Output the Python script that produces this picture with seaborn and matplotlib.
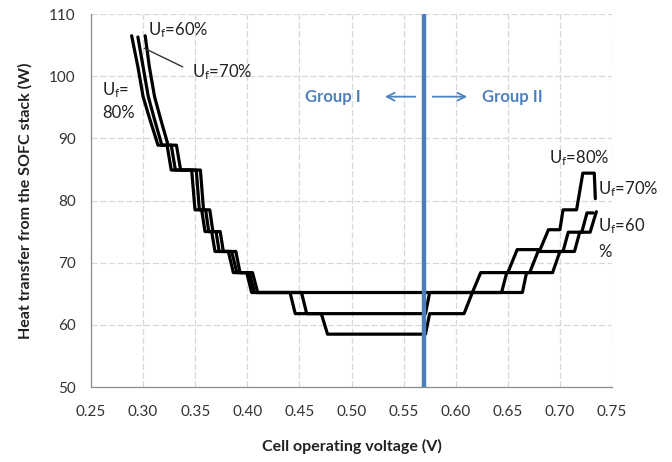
import matplotlib
matplotlib.use("Agg")
import matplotlib.pyplot as plt
import seaborn as sns
import pandas as pd

# ---- data ----
uf80_v = [0.289, 0.295, 0.300, 0.3066, 0.3143, 0.323, 0.327, 0.3466, 0.3498, 0.3562, 0.3594,
          0.3658, 0.369, 0.3818, 0.3866, 0.3994, 0.4042, 0.441, 0.446, 0.471, 0.477, 0.571,
          0.575, 0.608, 0.616, 0.624, 0.650, 0.659, 0.681, 0.689, 0.700, 0.703, 0.716, 0.722,
          0.733, 0.734]
uf80_q = [106.5, 101.5, 96.7, 93.0, 88.9, 88.9, 84.9, 84.9, 78.5, 78.5, 75.0,
          75.0, 71.8, 71.8, 68.4, 68.4, 65.2, 65.2, 61.8, 61.8, 58.5, 58.5,
          61.8, 61.8, 65.2, 68.4, 68.4, 72.1, 72.1, 75.3, 75.3, 78.5, 78.5, 84.4,
          84.4, 80.3]

uf70_v = [0.295, 0.300, 0.305, 0.311, 0.318, 0.327, 0.331, 0.351, 0.354, 0.360, 0.363,
          0.370, 0.373, 0.385, 0.390, 0.402, 0.407, 0.452, 0.457, 0.571, 0.575, 0.644,
          0.649, 0.671, 0.679, 0.703, 0.708, 0.721, 0.726, 0.732]
uf70_q = [106.3, 101.5, 96.7, 93.0, 88.9, 88.9, 84.9, 84.9, 78.5, 78.5, 75.0,
          75.0, 71.8, 71.8, 68.4, 68.4, 65.2, 65.2, 61.8, 61.8, 65.2, 65.2,
          68.4, 68.4, 71.8, 71.8, 74.9, 74.9, 78.0, 78.0]

uf60_v = [0.302, 0.306, 0.311, 0.317, 0.324, 0.332, 0.336, 0.355, 0.358, 0.364, 0.367,
          0.374, 0.377, 0.389, 0.393, 0.405, 0.410, 0.664, 0.668, 0.693, 0.700, 0.714,
          0.719, 0.729, 0.735]
uf60_q = [106.5, 101.5, 96.7, 93.0, 88.9, 88.9, 84.9, 84.9, 78.5, 78.5, 75.0,
          75.0, 71.8, 71.8, 68.4, 68.4, 65.2, 65.2, 68.4, 68.4, 71.8, 71.8,
          74.9, 74.9, 78.2]

divide_v = 0.57
x_ticks = [0.25, 0.30, 0.35, 0.40, 0.45, 0.50, 0.55, 0.60, 0.65, 0.70, 0.75]
y_ticks = [50, 60, 70, 80, 90, 100, 110]

# ---- style ----
sns.set_theme(style="white")
plt.rcParams["font.family"] = ["Lato", "DejaVu Sans"]
plt.rcParams["mathtext.fontset"] = "custom"
plt.rcParams["mathtext.rm"] = "Lato"
plt.rcParams["mathtext.it"] = "Lato"

fig = plt.figure(figsize=(6.72, 4.62), dpi=100)
ax = fig.add_axes([91 / 672, 1 - 387 / 462, (612 - 91) / 672, (387 - 14) / 462])

for v, q in [(uf80_v, uf80_q), (uf70_v, uf70_q), (uf60_v, uf60_q)]:
    df = pd.DataFrame({"v": v, "q": q})
    sns.lineplot(data=df, x="v", y="q", sort=False, estimator=None, color="black",
                 lw=2.3, ax=ax, zorder=3, solid_joinstyle="round", solid_capstyle="round")

ax.axvline(divide_v, color="#4A7EBB", lw=3.2, zorder=4)

ax.set_xlim(0.25, 0.75)
ax.set_ylim(50, 110)
ax.set_xticks(x_ticks)
ax.set_xticklabels([f"{t:.2f}" for t in x_ticks])
ax.set_yticks(y_ticks)
ax.grid(True, color="#D8D8D8", lw=0.9, ls=(0, (5, 2)))
ax.set_axisbelow(True)
for s in ["top", "right"]:
    ax.spines[s].set_visible(False)
for s in ["left", "bottom"]:
    ax.spines[s].set_color("#8C8C8C")
    ax.spines[s].set_linewidth(0.9)
ax.tick_params(axis="both", which="major", length=5, width=0.9, color="#8C8C8C",
               labelsize=11, labelcolor="#333333", direction="out", pad=6)
ax.tick_params(axis="x", pad=8)
ax.tick_params(axis="y", pad=6)

ax.set_xlabel("Cell operating voltage (V)", fontsize=11.5, fontweight="bold",
              color="#222222", labelpad=14)
ax.set_ylabel("Heat transfer from the SOFC stack (W)", fontsize=11.5, fontweight="bold",
              color="#222222", labelpad=12)

# annotations
fs = 12
tc = "#222222"
ax.text(0.3047, 107.4, r"$\mathrm{U_f}$=60%", fontsize=fs, color=tc, va="center", ha="left")
ax.text(0.347, 100.7, r"$\mathrm{U_f}$=70%", fontsize=fs, color=tc, va="center", ha="left")
ax.plot([0.301, 0.338], [104.5, 101.5], color="#333333", lw=1.0, zorder=3)
ax.text(0.2606, 97.8, r"$\mathrm{U_f}$=", fontsize=fs, color=tc, va="center", ha="left")
ax.text(0.2606, 94.1, "80%", fontsize=fs, color=tc, va="center", ha="left")

ax.text(0.6895, 86.8, r"$\mathrm{U_f}$=80%", fontsize=fs, color=tc, va="center", ha="left",
        clip_on=False)
ax.text(0.7366, 81.9, r"$\mathrm{U_f}$=70%", fontsize=fs, color=tc, va="center", ha="left",
        clip_on=False)
ax.text(0.7366, 75.8, r"$\mathrm{U_f}$=60", fontsize=fs, color=tc, va="center", ha="left",
        clip_on=False)
ax.text(0.7366, 71.7, "%", fontsize=fs, color=tc, va="center", ha="left", clip_on=False)

gc = "#4F81BD"
ax.text(0.4554, 96.7, "Group I", fontsize=12, fontweight="bold", color=gc, va="center",
        ha="left")
ax.text(0.6252, 96.7, "Group II", fontsize=12, fontweight="bold", color=gc, va="center",
        ha="left")
ax.annotate("", xy=(0.5293, 96.7), xytext=(0.5638, 96.7),
            arrowprops=dict(arrowstyle="->", color=gc, lw=1.3, mutation_scale=14))
ax.annotate("", xy=(0.6137, 96.7), xytext=(0.5753, 96.7),
            arrowprops=dict(arrowstyle="->", color=gc, lw=1.3, mutation_scale=14))

fig.savefig("out.png", dpi=100)
